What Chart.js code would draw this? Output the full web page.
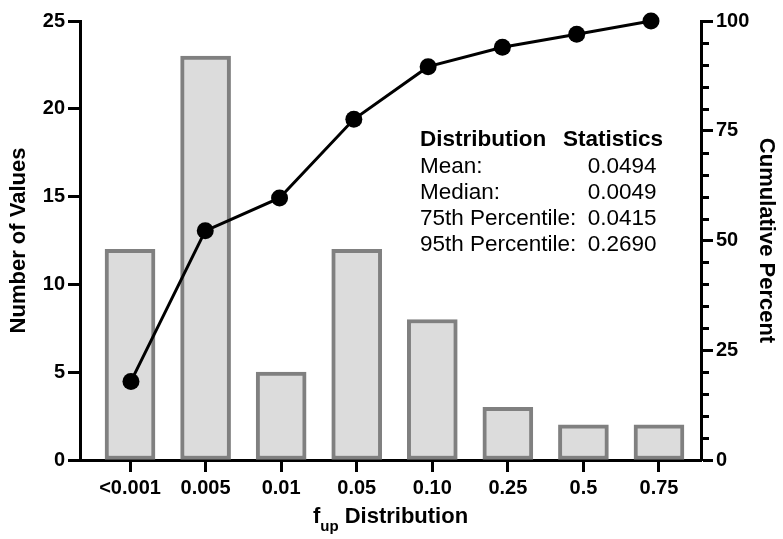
<!DOCTYPE html>
<html>
<head>
<meta charset="utf-8">
<script src="https://cdn.jsdelivr.net/npm/chart.js@4.4.1/dist/chart.umd.min.js"></script>
<style>
  html, body { margin: 0; padding: 0; background: #fff; }
  #wrap { width: 783px; height: 539px; }
</style>
</head>
<body>
<div id="wrap"><canvas id="myChart" width="783" height="539"></canvas></div>
<script>
const categories = ['<0.001', '0.005', '0.01', '0.05', '0.10', '0.25', '0.5', '0.75'];
const counts = [12, 23, 5, 12, 8, 3, 2, 2];
const cumulative = [17.9, 52.2, 59.7, 77.6, 89.6, 94.0, 97.0, 100];
const countTicks = [0, 5, 10, 15, 20, 25];
const percentTicks = [0, 25, 50, 75, 100];
const percentMinor = [5, 10, 15, 20, 30, 35, 40, 45, 55, 60, 65, 70, 80, 85, 90, 95];
const statLabels = ['Mean:', 'Median:', '75th Percentile:', '95th Percentile:'];
const statValues = ['0.0494', '0.0049', '0.0415', '0.2690'];

const FAMILY = "'Liberation Sans', Arial, sans-serif";
const tickFont = { family: FAMILY, size: 20, weight: 'bold' };
const titleFont = { family: FAMILY, size: 22, weight: 'bold' };

// minor ticks, x title with subscript, stats box
const extras = {
  id: 'extras',
  afterDraw(chart) {
    const { ctx, chartArea, scales } = chart;
    ctx.save();
    ctx.strokeStyle = '#000';
    ctx.lineWidth = 3;
    percentMinor.forEach(v => {
      const py = Math.round(scales.y2.getPixelForValue(v)) + 0.5;
      ctx.beginPath();
      ctx.moveTo(chartArea.right, py);
      ctx.lineTo(chartArea.right + 8, py);
      ctx.stroke();
    });

    ctx.fillStyle = '#000';
    ctx.textBaseline = 'alphabetic';
    const big = `bold 22px ${FAMILY}`;
    const small = `bold 15px ${FAMILY}`;
    ctx.font = big;
    const w1 = ctx.measureText('f').width;
    const w3 = ctx.measureText(' Distribution').width;
    ctx.font = small;
    const w2 = ctx.measureText('up').width;
    let x = (chartArea.left + chartArea.right) / 2 - (w1 + w2 + w3) / 2;
    ctx.textAlign = 'left';
    ctx.font = big;
    ctx.fillText('f', x, 523);
    ctx.font = small;
    ctx.fillText('up', x + w1, 531);
    ctx.font = big;
    ctx.fillText(' Distribution', x + w1 + w2, 523);

    ctx.font = `bold 22.5px ${FAMILY}`;
    ctx.fillText('Distribution', 420, 146);
    ctx.textAlign = 'right';
    ctx.fillText('Statistics', 663, 146);
    ctx.font = `22.5px ${FAMILY}`;
    statLabels.forEach((s, i) => {
      const by = 172.5 + i * 26;
      ctx.textAlign = 'left';
      ctx.fillText(s, 420, by);
      ctx.textAlign = 'right';
      ctx.fillText(statValues[i], 656.5, by);
    });
    ctx.restore();
  }
};

const axisGrid = { drawOnChartArea: false, offset: false, tickLength: 12, tickWidth: 3, tickColor: '#000' };
const axisBorder = { color: '#000', width: 3 };

new Chart(document.getElementById('myChart'), {
  data: {
    datasets: [
      {
        type: 'line',
        label: 'Cumulative Percent',
        data: cumulative.map((v, i) => ({ x: i, y: v })),
        xAxisID: 'x2',
        yAxisID: 'y2',
        borderColor: '#000',
        borderWidth: 3,
        pointRadius: 8.5,
        pointBackgroundColor: '#000',
        pointBorderWidth: 0,
        tension: 0,
        clip: false,
        order: 0
      },
      {
        type: 'bar',
        label: 'Number of Values',
        data: counts.map((v, i) => ({ x: i, y: v })),
        xAxisID: 'x',
        yAxisID: 'y',
        grouped: false,
        backgroundColor: '#dcdcdc',
        borderColor: '#808080',
        borderWidth: 4,
        borderSkipped: false,
        barThickness: 50,
        maxBarThickness: 50,
        order: 1
      }
    ]
  },
  options: {
    responsive: false,
    animation: false,
    layout: { padding: { top: 21, left: 0, right: 0, bottom: 0 } },
    plugins: { legend: { display: false }, tooltip: { enabled: false } },
    scales: {
      x: {
        type: 'linear',
        position: 'bottom',
        offset: false,
        min: -0.662,
        max: 7.556,
        afterBuildTicks: s => { s.ticks = categories.map((c, i) => ({ value: i })); },
        afterFit: s => { s.height = 79; },
        ticks: { callback: v => categories[v], font: tickFont, color: '#000', padding: 4, maxRotation: 0, autoSkip: false },
        grid: axisGrid,
        border: axisBorder
      },
      x2: { type: 'linear', display: false, offset: false, min: -0.686, max: 7.673 },
      y: {
        position: 'left',
        min: 0,
        max: 25,
        afterBuildTicks: s => { s.ticks = countTicks.map(v => ({ value: v })); },
        afterFit: s => { s.width = 80; },
        ticks: { font: tickFont, color: '#000', padding: 3 },
        title: { display: true, text: 'Number of Values', font: titleFont, color: '#000', padding: { top: 6, bottom: 4 } },
        grid: axisGrid,
        border: axisBorder
      },
      y2: {
        position: 'right',
        min: 0,
        max: 100,
        afterBuildTicks: s => { s.ticks = percentTicks.map(v => ({ value: v })); },
        afterFit: s => { s.width = 82; },
        ticks: { font: tickFont, color: '#000', padding: 3 },
        title: { display: true, text: 'Cumulative Percent', font: titleFont, color: '#000', padding: { top: 4, bottom: 4 } },
        grid: axisGrid,
        border: axisBorder
      }
    }
  },
  plugins: [extras]
});
</script>
</body>
</html>
